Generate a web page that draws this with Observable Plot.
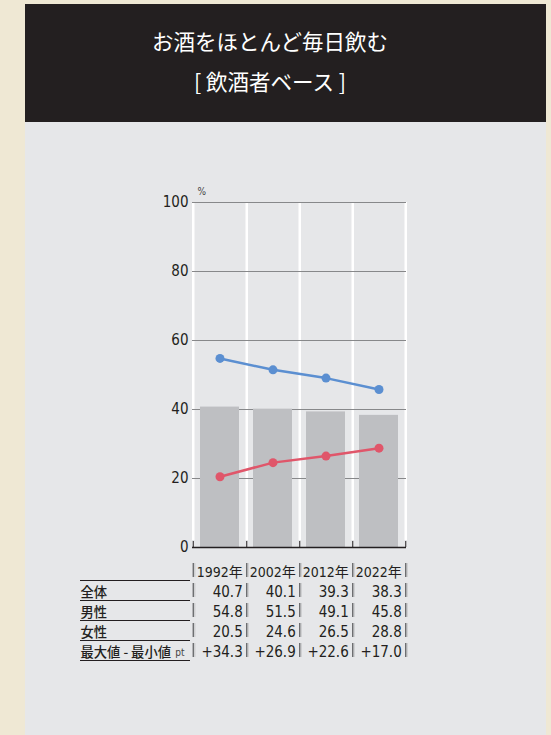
<!DOCTYPE html>
<html><head><meta charset="utf-8">
<script src="https://cdn.jsdelivr.net/npm/d3@7"></script>
<script src="https://cdn.jsdelivr.net/npm/@observablehq/plot@0.6"></script>
<style>
html,body{margin:0;padding:0;width:551px;height:735px;overflow:hidden;background:#efe8d4;}
#panel{position:absolute;left:25px;top:4px;width:521px;height:731px;background:#e6e7e9;}
#header{position:absolute;left:25px;top:4px;width:521px;height:118px;background:#231f20;}
.t{position:absolute;left:0;width:540px;text-align:center;color:#fff;font-family:"Noto Sans CJK JP";font-size:21.5px;line-height:28px;}
#chart{position:absolute;left:0;top:180px;}
#table{position:absolute;left:0;top:561px;}
</style></head>
<body>
<div id="panel"></div>
<div id="header"></div>
<div class="t" style="top:27px">お酒をほとんど毎日飲む</div>
<div class="t" style="top:67px">[ 飲酒者ベース ]</div>
<div id="chart"></div>
<div id="table"></div>
<script>
const years = ["1992年","2002年","2012年","2022年"];
const total = [40.7,40.1,39.3,38.3];
const male = [54.8,51.5,49.1,45.8];
const female = [20.5,24.6,26.5,28.8];
const diff = ["+34.3","+26.9","+22.6","+17.0"];
const yTicks = [0,20,40,60,80,100];
const rowKeys = ["年","全体","男性","女性","最大値 - 最小値"];

const numFont = "'DejaVu Sans Condensed','Noto Sans CJK JP',sans-serif";
const jpFont = "'Noto Sans CJK JP',sans-serif";
const half = (406-192)/4/2;

const rows = years.map((year,i)=>({year,total:total[i],male:male[i],female:female[i]}));

const chart = Plot.plot({
  width:551,height:380,marginLeft:192,marginRight:145,marginTop:22,marginBottom:13,
  style:{background:"transparent",fontFamily:numFont,fontSize:"15px",color:"#231f20"},
  x:{type:"band",domain:years,paddingInner:0,paddingOuter:0,axis:null},
  y:{domain:[0,100],axis:null},
  marks:[
    Plot.ruleX(years,{x:d=>d,dx:half,stroke:"#fff",strokeWidth:2.5,insetBottom:7}),
    Plot.ruleX([years[0]],{x:d=>d,dx:-half,stroke:"#fff",strokeWidth:2.5,insetBottom:7}),
    Plot.gridY(yTicks.filter(t=>t>0),{stroke:"#87888a",strokeOpacity:1,strokeWidth:1}),
    Plot.axisY(yTicks,{tickSize:0,tickPadding:4,fontSize:15,fill:"#231f20",label:null}),
    Plot.barY(rows,{x:"year",y:"total",fill:"#bebfc2",insetLeft:7,insetRight:7}),
    Plot.ruleY([0],{stroke:"#231f20",strokeWidth:1.5}),
    Plot.axisX(years,{tickSize:6,dx:half,dy:-6,tickFormat:()=>"",stroke:"#231f20",label:null}),
    Plot.axisX([years[0]],{tickSize:6,dx:-half,dy:-6,tickFormat:()=>"",stroke:"#231f20",label:null}),
    Plot.line(rows,{x:"year",y:"male",stroke:"#5b8fd1",strokeWidth:2.5}),
    Plot.dot(rows,{x:"year",y:"male",fill:"#5b8fd1",r:4.5}),
    Plot.line(rows,{x:"year",y:"female",stroke:"#e0566a",strokeWidth:2.5}),
    Plot.dot(rows,{x:"year",y:"female",fill:"#e0566a",r:4.5}),
    Plot.text(["%"],{frameAnchor:"top-left",dx:5,dy:-15,fontSize:10,fill:"#444"})
  ]
});
document.getElementById("chart").appendChild(chart);

const cells = [];
years.forEach((yr,i)=>{
  cells.push({year:yr,row:rowKeys[0],text:yr,size:14});
  cells.push({year:yr,row:rowKeys[1],text:total[i].toFixed(1),size:15});
  cells.push({year:yr,row:rowKeys[2],text:male[i].toFixed(1),size:15});
  cells.push({year:yr,row:rowKeys[3],text:female[i].toFixed(1),size:15});
  cells.push({year:yr,row:rowKeys[4],text:diff[i],size:15});
});
const firstCol = cells.filter(d=>d.year===years[0]);

const table = Plot.plot({
  width:551,height:100,marginLeft:192,marginRight:145,marginTop:0,marginBottom:0,
  style:{background:"transparent",fontFamily:numFont,fontSize:"15px",color:"#231f20"},
  x:{type:"band",domain:years,paddingInner:0,paddingOuter:0,axis:null},
  y:{type:"band",domain:rowKeys,paddingInner:0,paddingOuter:0,axis:null},
  marks:[
    Plot.axisY(rowKeys,{tickSize:110,dx:-2,dy:9,tickFormat:()=>"",stroke:"#231f20",strokeWidth:1.2,label:null}),
    Plot.text(rowKeys.slice(1),{y:d=>d,frameAnchor:"left",dx:-112,dy:1,textAnchor:"start",fontFamily:jpFont,fontSize:13.3,fontWeight:500,fill:"#231f20"}),
    Plot.text(["pt"],{y:()=>rowKeys[4],frameAnchor:"left",dx:-8,dy:1,textAnchor:"end",fontSize:10,fill:"#444"}),
    Plot.tickX(cells,{x:"year",y:"row",dx:half+1.5,stroke:"#cfd0d2",strokeWidth:1.5,insetTop:2,insetBottom:4}),
    Plot.tickX(cells,{x:"year",y:"row",dx:half,stroke:"#58595b",strokeWidth:1.2,insetTop:2,insetBottom:4}),
    Plot.tickX(firstCol,{x:"year",y:"row",dx:-half+1.5,stroke:"#cfd0d2",strokeWidth:1.5,insetTop:2,insetBottom:4}),
    Plot.tickX(firstCol,{x:"year",y:"row",dx:-half,stroke:"#58595b",strokeWidth:1.2,insetTop:2,insetBottom:4}),
    Plot.text(cells,{x:"year",y:"row",text:"text",dx:half-4,dy:1,textAnchor:"end",fontSize:"size",fill:"#231f20"})
  ]
});
document.getElementById("table").appendChild(table);
</script>
</body></html>
